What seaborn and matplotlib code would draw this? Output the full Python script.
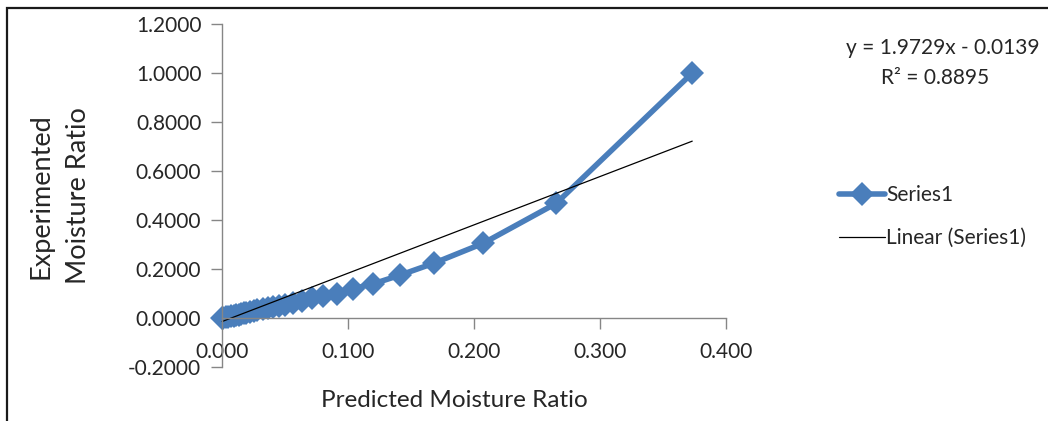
import numpy as np
import pandas as pd
import matplotlib
matplotlib.use("Agg")
import matplotlib.pyplot as plt
from matplotlib.patches import Rectangle
import seaborn as sns

# DATA
predicted_mr = [0.000, 0.001, 0.003, 0.005, 0.007, 0.009, 0.011, 0.013, 0.015, 0.017,
                0.019, 0.022, 0.025, 0.028, 0.032, 0.036, 0.040, 0.045, 0.050, 0.056,
                0.063, 0.071, 0.080, 0.091, 0.104, 0.120, 0.141, 0.168, 0.207, 0.265, 0.373]
experimented_mr = [0.000, 0.002, 0.004, 0.006, 0.008, 0.010, 0.012, 0.014, 0.016, 0.019,
                   0.022, 0.025, 0.028, 0.032, 0.036, 0.040, 0.045, 0.050, 0.055, 0.062,
                   0.070, 0.080, 0.090, 0.100, 0.120, 0.140, 0.175, 0.224, 0.305, 0.468, 1.000]
trend_slope = 1.9729
trend_intercept = -0.0139
r_squared = 0.8895
x_ticks = [0.0, 0.1, 0.2, 0.3, 0.4]
y_ticks = [-0.2, 0.0, 0.2, 0.4, 0.6, 0.8, 1.0, 1.2]

sns.set_style("white")
plt.rcParams['font.family'] = ['Lato', 'DejaVu Sans']

df = pd.DataFrame({'x': predicted_mr, 'y': experimented_mr})
trend_x = [min(predicted_mr), max(predicted_mr)]
trend = pd.DataFrame({'x': trend_x,
                      'y': [trend_slope * v + trend_intercept for v in trend_x]})

fig = plt.figure(figsize=(10.48, 4.21), dpi=100)
ax = fig.add_axes([0.212, 0.128, 0.481, 0.815])

sns.lineplot(data=df, x='x', y='y', ax=ax, color='#4A7EBB', linewidth=4,
             marker='D', markersize=12, markeredgewidth=0, label='Series1', clip_on=False)
sns.lineplot(data=trend, x='x', y='y', ax=ax, color='black', linewidth=0.9,
             label='Linear (Series1)', clip_on=False)

ax.set_xlim(0, 0.4)
ax.set_ylim(-0.2, 1.2)
ax.set_xticks(x_ticks)
ax.set_yticks(y_ticks)
ax.set_xticklabels([f"{v:.3f}" for v in x_ticks])
ax.set_yticklabels([f"{v:.4f}" for v in y_ticks])
ax.tick_params(axis='both', direction='out', length=8, width=1, color='#868686',
               labelsize=15, colors='#262626', left=True, bottom=True)
ax.tick_params(axis='x', pad=9)
ax.tick_params(axis='y', pad=7)

for s in ['top', 'right']:
    ax.spines[s].set_visible(False)
ax.spines['bottom'].set_position(('data', 0))
for s in ['left', 'bottom']:
    ax.spines[s].set_color('#868686')
    ax.spines[s].set_linewidth(1)

ax.set_xlabel('')
ax.set_ylabel('')
fig.text(0.434, 0.048, 'Predicted Moisture Ratio', ha='center', va='center',
         fontsize=17.5, color='#262626')
fig.text(0.057, 0.535, 'Experimented\nMoisture Ratio', ha='center', va='center',
         rotation=90, fontsize=19.5, color='#262626', multialignment='center',
         linespacing=1.65)

fig.text(0.900, 0.885, f'y = {trend_slope}x - {abs(trend_intercept)}', ha='center',
         va='center', fontsize=15, color='#262626')
fig.text(0.892, 0.815, f'R\u00b2 = {r_squared}', ha='center', va='center',
         fontsize=15, color='#262626')

leg = ax.legend(loc='center left', bbox_to_anchor=(0.783, 0.485), bbox_transform=fig.transFigure,
                frameon=False, fontsize=15, handlelength=2.2, handletextpad=0.05,
                labelspacing=1.1)
for t in leg.get_texts():
    t.set_color('#262626')

# outer chart frame (top and left edges visible)
fig.patches.append(Rectangle((7 / 1048, -0.2), 1.2, (421 - 8) / 421 + 0.2,
                             transform=fig.transFigure, fill=False,
                             edgecolor='#1a1a1a', linewidth=1.6, zorder=10))

fig.savefig('out.png', dpi=100)
